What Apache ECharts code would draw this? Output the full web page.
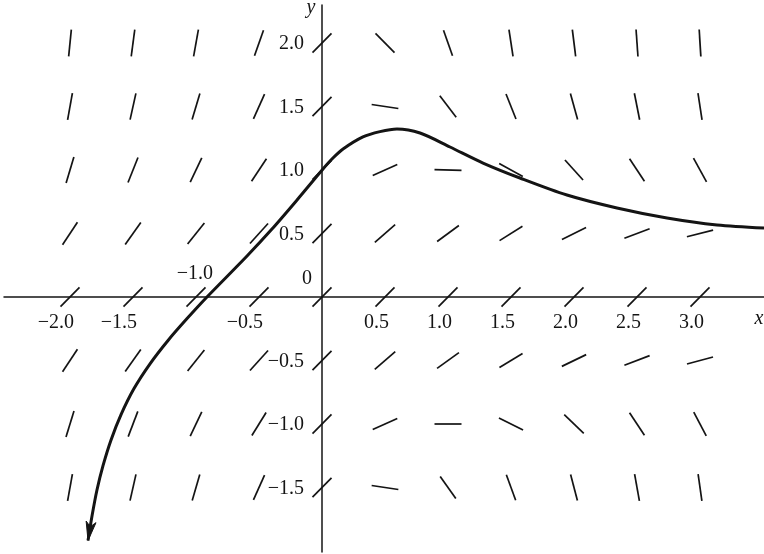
<!DOCTYPE html>
<html>
<head>
<meta charset="utf-8">
<script src="https://cdn.jsdelivr.net/npm/echarts@6/dist/echarts.min.js"></script>
<style>
  html, body { margin: 0; padding: 0; background: #ffffff; }
  #chart { width: 764px; height: 554px; }
</style>
</head>
<body>
<div id="chart"></div>
<script>
// Grid of points where the direction field is sampled
const fieldX = [-2.0, -1.5, -1.0, -0.5, 0, 0.5, 1.0, 1.5, 2.0, 2.5, 3.0];
const fieldY = [2.0, 1.5, 1.0, 0.5, 0, -0.5, -1.0, -1.5];

// Slope dy/dx at each grid point, one row per fieldY value (top to bottom)
const slopesY2p0  = [10, 7.5, 5.5, 2.8, 1, -1, -2.8, -6.5, -8, -14, -16];
const slopesY1p5  = [5.5, 4.5, 3.3, 2.2, 1, -0.15, -1.3, -2.5, -3.6, -5, -6.5];
const slopesY1p0  = [3.3, 2.5, 2.1, 1.5, 1, 0.45, -0.03, -0.55, -1.1, -1.5, -1.8];
const slopesY0p5  = [1.5, 1.4, 1.25, 1.1, 1, 0.87, 0.73, 0.62, 0.5, 0.38, 0.25];
const slopesY0    = [1, 1, 1, 1, 1, 1, 1, 1, 1, 1, 1];
const slopesYm0p5 = [1.5, 1.4, 1.25, 1.1, 1, 0.85, 0.72, 0.6, 0.48, 0.38, 0.27];
const slopesYm1p0 = [3.2, 2.6, 2.1, 1.6, 1, 0.45, 0, -0.5, -0.95, -1.5, -1.9];
const slopesYm1p5 = [5.5, 4.4, 3.4, 2.2, 1, -0.15, -1.4, -2.7, -3.8, -5.5, -7];
const slopeRows = [slopesY2p0, slopesY1p5, slopesY1p0, slopesY0p5, slopesY0,
                   slopesYm0p5, slopesYm1p0, slopesYm1p5];

// Solution curve through (0, 1); the first point is the arrow tip
const curveX = [-1.857, -1.825, -1.786, -1.738, -1.675, -1.595, -1.492, -1.365, -1.222,
                -1.071, -0.913, -0.595, -0.397, -0.198, 0.008, 0.087, 0.167, 0.325, 0.460,
                0.595, 0.778, 1.016, 1.278, 1.571, 1.944, 2.341, 2.738, 3.135, 3.508];
const curveY = [-1.918, -1.723, -1.520, -1.328, -1.127, -0.926, -0.721, -0.526, -0.342,
                -0.170, 0, 0.323, 0.535, 0.764, 1.008, 1.094, 1.165, 1.260, 1.302,
                1.323, 1.291, 1.181, 1.055, 0.937, 0.803, 0.701, 0.622, 0.567, 0.543];

// Axis tick labels
const xTickValues = [-2.0, -1.5, -1.0, -0.5, 0.5, 1.0, 1.5, 2.0, 2.5, 3.0];
const xTickLabels = ['\u22122.0', '\u22121.5', '\u22121.0', '\u22120.5', '0.5', '1.0', '1.5', '2.0', '2.5', '3.0'];
const yTickValues = [2.0, 1.5, 1.0, 0.5, 0, -0.5, -1.0, -1.5];
const yTickLabels = ['2.0', '1.5', '1.0', '0.5', '0', '\u22120.5', '\u22121.0', '\u22121.5'];

const INK = '#141414';
const SERIF = '"Liberation Serif", "DejaVu Serif", serif';
const LABEL_SIZE = 20;
const SEG_HALF = 13.5;

const fieldData = [];
fieldY.forEach((y, r) => {
  fieldX.forEach((x, c) => fieldData.push([x, y, slopeRows[r][c]]));
});

const curveData = curveX.map((x, i) => [x, curveY[i]]);

const chart = echarts.init(document.getElementById('chart'), null, { renderer: 'canvas' });

chart.setOption({
  animation: false,
  backgroundColor: '#ffffff',
  grid: { left: 4, right: 0, top: 5, bottom: 2, containLabel: false },
  xAxis: {
    type: 'value',
    min: -2.5238, max: 3.5079,
    axisLine: { onZero: true, lineStyle: { color: INK, width: 1.5 } },
    axisTick: { show: false },
    axisLabel: { show: false },
    splitLine: { show: false }
  },
  yAxis: {
    type: 'value',
    min: -2.0079, max: 2.2992,
    axisLine: { onZero: true, lineStyle: { color: INK, width: 1.5 } },
    axisTick: { show: false },
    axisLabel: { show: false },
    splitLine: { show: false }
  },
  graphic: [
    { type: 'text', x: 311, y: 8, style: { text: 'y', fontFamily: SERIF, fontStyle: 'italic', fontSize: 20, fill: INK, align: 'center', verticalAlign: 'middle' } },
    { type: 'text', x: 759, y: 319, style: { text: 'x', fontFamily: SERIF, fontStyle: 'italic', fontSize: 20, fill: INK, align: 'center', verticalAlign: 'middle' } }
  ],
  series: [
    {
      // direction field segments
      type: 'custom',
      data: fieldData,
      silent: true,
      renderItem(params, api) {
        const c = api.coord([api.value(0), api.value(1)]);
        const unit = api.size([1, 1]);
        const dx = unit[0];
        const dy = -api.value(2) * unit[1];
        const k = SEG_HALF / Math.hypot(dx, dy);
        return {
          type: 'line',
          shape: { x1: c[0] - dx * k, y1: c[1] - dy * k, x2: c[0] + dx * k, y2: c[1] + dy * k },
          style: { stroke: INK, lineWidth: 1.7, lineCap: 'butt' }
        };
      }
    },
    {
      // solution curve
      type: 'line',
      data: curveData,
      smooth: 0.3,
      showSymbol: false,
      silent: true,
      lineStyle: { color: INK, width: 3 },
      z: 3
    },
    {
      // arrowhead at the start of the curve
      type: 'custom',
      data: [[curveX[0], curveY[0], curveX[1], curveY[1]]],
      silent: true,
      z: 4,
      renderItem(params, api) {
        const tip = api.coord([api.value(0), api.value(1)]);
        const back = api.coord([api.value(2), api.value(3)]);
        let ux = tip[0] - back[0], uy = tip[1] - back[1];
        const n = Math.hypot(ux, uy); ux /= n; uy /= n;
        const len = 19, half = 5, notch = 14;
        const bx = tip[0] - ux * len, by = tip[1] - uy * len;
        const nx = tip[0] - ux * notch, ny = tip[1] - uy * notch;
        return {
          type: 'polygon',
          shape: { points: [tip, [bx - uy * half, by + ux * half], [nx, ny], [bx + uy * half, by - ux * half]] },
          style: { fill: INK, stroke: INK, lineWidth: 1 }
        };
      }
    },
    {
      // x-axis tick labels
      type: 'custom',
      data: xTickValues.map((v, i) => [v, 0, i]),
      silent: true,
      renderItem(params, api) {
        const p = api.coord([api.value(0), 0]);
        const i = api.value(2);
        const above = xTickValues[i] === -1.0;
        return {
          type: 'text',
          x: above ? p[0] + 17 : p[0] + 4,
          y: above ? p[1] - 23.5 : p[1] + 25.5,
          style: { text: xTickLabels[i], fontFamily: SERIF, fontSize: LABEL_SIZE, fill: INK, align: 'right', verticalAlign: 'middle' }
        };
      }
    },
    {
      // y-axis tick labels
      type: 'custom',
      data: yTickValues.map((v, i) => [0, v, i]),
      silent: true,
      renderItem(params, api) {
        const p = api.coord([0, api.value(1)]);
        const i = api.value(2);
        const origin = yTickValues[i] === 0;
        return {
          type: 'text',
          x: origin ? p[0] - 10 : p[0] - 18,
          y: origin ? p[1] - 18 : p[1] + 1,
          style: { text: yTickLabels[i], fontFamily: SERIF, fontSize: LABEL_SIZE, fill: INK, align: 'right', verticalAlign: 'middle' }
        };
      }
    }
  ]
});
</script>
</body>
</html>
